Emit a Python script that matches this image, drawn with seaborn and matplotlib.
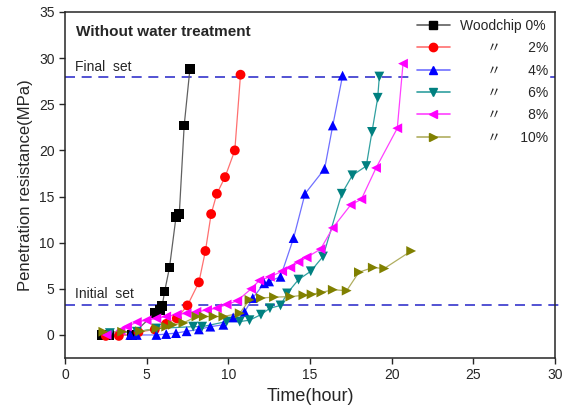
import pandas as pd
import matplotlib
matplotlib.use('Agg')
import matplotlib.pyplot as plt
import seaborn as sns
from matplotlib.lines import Line2D

# values (time in hours, resistance in MPa)
t_0 = [2.25, 2.7, 4.1, 5.5, 5.8, 5.95, 6.1, 6.4, 6.8, 7.0, 7.3, 7.65]
v_0 = [0.0, 0.0, 0.0, 2.35, 2.7, 3.1, 4.7, 7.3, 12.8, 13.1, 22.7, 28.8]

t_2 = [2.5, 3.3, 4.5, 5.5, 6.2, 6.85, 7.5, 8.2, 8.6, 8.95, 9.3, 9.8, 10.4, 10.75]
v_2 = [-0.1, -0.1, 0.3, 0.6, 1.2, 1.8, 3.2, 5.7, 9.1, 13.1, 15.3, 17.1, 20.0, 28.2]

t_4 = [4.0, 4.4, 5.6, 6.2, 6.8, 7.45, 8.2, 8.9, 9.7, 10.3, 11.0, 11.5, 12.2, 12.5,
       13.2, 14.0, 14.7, 15.9, 16.4, 17.0]
v_4 = [0.0, 0.0, 0.0, 0.1, 0.2, 0.4, 0.6, 0.9, 1.1, 1.9, 2.5, 4.0, 5.6, 5.8,
       6.3, 10.5, 15.3, 18.0, 22.7, 28.1]

t_6 = [2.75, 4.4, 5.6, 7.85, 8.4, 9.9, 10.7, 11.3, 12.0, 12.55, 13.2, 13.6,
       14.3, 15.05, 15.8, 16.95, 17.6, 18.45, 18.8, 19.15, 19.25]
v_6 = [0.2, 0.35, 0.7, 0.9, 0.9, 1.45, 1.45, 1.6, 2.2, 2.9, 3.2, 4.5,
       6.0, 6.9, 8.5, 15.3, 17.3, 18.3, 22.0, 25.7, 28.0]

t_8 = [2.55, 3.4, 3.8, 4.4, 5.0, 5.6, 6.2, 6.85, 7.45, 8.05, 8.7, 9.3, 9.9,
       10.55, 11.4, 11.9, 12.55, 13.3, 13.8, 14.3, 14.8, 15.65, 16.4, 17.5,
       18.15, 19.05, 20.35, 20.7]
v_8 = [0.0, 0.5, 0.9, 1.4, 1.6, 1.8, 2.0, 2.2, 2.35, 2.5, 2.7, 2.9, 3.3,
       3.7, 5.0, 5.9, 6.3, 6.9, 7.3, 7.9, 8.4, 9.3, 11.6, 14.1,
       14.7, 18.1, 22.4, 29.4]

t_10 = [2.35, 3.5, 4.6, 5.6, 6.2, 6.6, 7.25, 8.05, 8.5, 9.1, 9.7, 10.7, 11.3,
        12.0, 12.8, 13.8, 14.6, 15.1, 15.7, 16.4, 17.25, 18.0, 18.85, 19.55, 21.2]
v_10 = [0.35, 0.35, 0.4, 0.7, 0.9, 1.1, 1.3, 2.0, 2.0, 2.0, 2.0, 2.35, 3.8,
        4.0, 4.1, 4.15, 4.3, 4.4, 4.6, 4.9, 4.8, 6.8, 7.3, 7.2, 9.1]

labels = ['Woodchip 0%', '2%', '4%', '6%', '8%', '10%']
final_set = 28.0
initial_set = 3.2

series = [(t_0, v_0), (t_2, v_2), (t_4, v_4), (t_6, v_6), (t_8, v_8), (t_10, v_10)]
frames = []
for lab, (t, v) in zip(labels, series):
    frames.append(pd.DataFrame({'time': t, 'res': v, 'mix': lab}))
df = pd.concat(frames, ignore_index=True)

marker_cols = ['#000000', '#ff0000', '#0000ff', '#008080', '#ff00ff', '#808000']
line_cols = ['#606060', '#ff7070', '#7070ff', '#30a0a0', '#ff40ff', '#b0ae60']
markers = ['s', 'o', '^', 'v', '<', '>']

sns.set_style('ticks')
plt.rcParams['font.family'] = ['Liberation Sans', 'Noto Sans CJK KR', 'DejaVu Sans']

fig = plt.figure(figsize=(5.75, 4.12), dpi=100)
ax = fig.add_axes([0.113, 0.131, 0.852, 0.840])

# thin connecting lines
sns.lineplot(data=df, x='time', y='res', hue='mix', palette=line_cols,
             sort=False, estimator=None, lw=0.9, legend=False, ax=ax, zorder=2)
# markers
sns.scatterplot(data=df, x='time', y='res', hue='mix', style='mix',
                palette=marker_cols, markers=markers, s=50, linewidth=0,
                legend=False, ax=ax, zorder=3)

# set lines
ax.axhline(final_set, xmax=1.0, color='#3535cc', ls=(0, (6, 4)), lw=1.2, zorder=1)
ax.axhline(initial_set, xmax=1.02, color='#3535cc', ls=(0, (6, 4)), lw=1.2,
           zorder=1, clip_on=False)
ax.text(0.6, final_set + 0.6, 'Final  set', fontsize=10)
ax.text(0.6, initial_set + 0.8, 'Initial  set', fontsize=10)
ax.text(0.7, 32.4, 'Without water treatment', fontsize=11, fontweight='bold')

ax.set_xlim(0, 30)
ax.set_ylim(-2.5, 35)
ax.set_xticks(range(0, 31, 5))
ax.set_yticks(range(0, 36, 5))
ax.tick_params(labelsize=10, direction='out', length=4, width=1)
ax.set_xlabel('Time(hour)', fontsize=13)
ax.set_ylabel('Penetration resistance(MPa)', fontsize=12)
for sp in ax.spines.values():
    sp.set_visible(True)
    sp.set_linewidth(1.1)

# legend with ditto marks
handles = []
for i in range(6):
    handles.append(Line2D([0], [0], color=line_cols[i], lw=1.2, marker=markers[i],
                          markersize=6, markerfacecolor=marker_cols[i],
                          markeredgecolor=marker_cols[i]))
leg_labels = ['Woodchip 0%'] + ['       〃       ' + l for l in labels[1:]]
leg_labels[-1] = '       〃     10%'
leg = ax.legend(handles, leg_labels, loc='upper right', fontsize=10,
                frameon=True, framealpha=1, edgecolor='white', fancybox=False,
                handlelength=2.4, handletextpad=0.7, borderpad=0.1,
                borderaxespad=0.4, labelspacing=0.6)
leg.set_zorder(5)

fig.savefig('out.png', dpi=100)
